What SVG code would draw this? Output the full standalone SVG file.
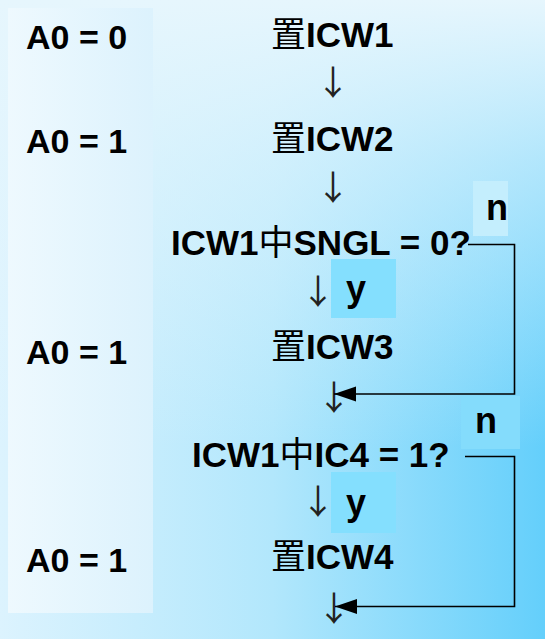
<svg xmlns="http://www.w3.org/2000/svg" width="545" height="639" viewBox="0 0 545 639">
  <defs>
    <linearGradient id="bgH" x1="0" y1="0" x2="1" y2="0">
      <stop offset="0" stop-color="#dcf3fe"/>
      <stop offset="0.5" stop-color="#b2e7fc"/>
      <stop offset="1" stop-color="#64cffb"/>
    </linearGradient>
    <linearGradient id="bgV" gradientUnits="userSpaceOnUse" x1="0" y1="0" x2="0" y2="639">
      <stop offset="0" stop-color="#e6f6fd" stop-opacity="1"/>
      <stop offset="0.25" stop-color="#e6f6fd" stop-opacity="0.6"/>
      <stop offset="0.7" stop-color="#e6f6fd" stop-opacity="0"/>
    </linearGradient>
    <linearGradient id="panel" x1="0" y1="0" x2="1" y2="0">
      <stop offset="0" stop-color="#eef9fe"/>
      <stop offset="1" stop-color="#dcf2fd"/>
    </linearGradient>
    <marker id="ah" markerUnits="userSpaceOnUse" markerWidth="24" markerHeight="18" refX="22" refY="8" orient="auto">
      <path d="M0,0.5 L22,8 L0,15.5 Z" fill="#000"/>
    </marker>
    <style>
      .t { font-family: "Liberation Sans", Arial, sans-serif; font-weight: bold; font-size: 35px; fill: #000; }
      .a0 { font-family: "Liberation Sans", Arial, sans-serif; font-weight: bold; font-size: 34px; fill: #000; }
      .cjk { font-family: "Noto Sans CJK SC", sans-serif; font-weight: normal; }
      .lbl { font-family: "Liberation Sans", Arial, sans-serif; font-weight: bold; font-size: 36px; fill: #000; }
      .dn { font-family: "Noto Sans CJK SC", "DejaVu Sans", sans-serif; font-weight: normal; font-size: 34px; fill: #222; text-anchor: middle; }
      .line { fill: none; stroke: #000; stroke-width: 1.6; }
    </style>
  </defs>

  <rect x="0" y="0" width="545" height="639" fill="url(#bgH)"/>
  <rect x="0" y="0" width="545" height="639" fill="url(#bgV)"/>
  <rect x="8" y="8" width="145" height="605" fill="url(#panel)"/>

  <g id="a0-labels">
    <text class="a0" x="26" y="49">A0 = 0</text>
    <text class="a0" x="26" y="153">A0 = 1</text>
    <text class="a0" x="26" y="364">A0 = 1</text>
    <text class="a0" x="26" y="572">A0 = 1</text>
  </g>

  <g id="node-icw1">
    <text class="t" x="271" y="47"><tspan class="cjk">置</tspan>ICW1</text>
  </g>
  <g id="node-icw2">
    <text class="t" x="271" y="151"><tspan class="cjk">置</tspan>ICW2</text>
  </g>
  <g id="node-sngl">
    <text class="t" x="171" y="255">ICW1<tspan class="cjk">中</tspan>SNGL = 0?</text>
  </g>
  <g id="node-icw3">
    <text class="t" x="271" y="359"><tspan class="cjk">置</tspan>ICW3</text>
  </g>
  <g id="node-ic4">
    <text class="t" x="192" y="467">ICW1<tspan class="cjk">中</tspan>IC4 = 1?</text>
  </g>
  <g id="node-icw4">
    <text class="t" x="271" y="569"><tspan class="cjk">置</tspan>ICW4</text>
  </g>

  <g id="branch-labels">
    <rect x="473" y="181" width="35" height="55" fill="#c4eefd"/>
    <text class="lbl" x="497" y="220" text-anchor="middle">n</text>
    <rect x="331" y="259" width="65" height="59" fill="#84dffe"/>
    <text class="lbl" x="356" y="301" text-anchor="middle">y</text>
    <rect x="461" y="396" width="59" height="53" fill="#84dcfc"/>
    <text class="lbl" x="486" y="433" text-anchor="middle">n</text>
    <rect x="331" y="472" width="65" height="61" fill="#84dffe"/>
    <text class="lbl" x="356" y="515" text-anchor="middle">y</text>
  </g>

  <g id="connectors">
    <text class="dn" x="333" y="95">↓</text>
    <text class="dn" x="333" y="200">↓</text>
    <text class="dn" x="318" y="304">↓</text>
    <text class="dn" x="334" y="410">↓</text>
    <text class="dn" x="318" y="514">↓</text>
    <text class="dn" x="334" y="621">↓</text>
    <polyline class="line" points="468,244.5 514.5,244.5 514.5,394 334,394" marker-end="url(#ah)"/>
    <polyline class="line" points="465,456.5 514.5,456.5 514.5,606.5 335,606.5" marker-end="url(#ah)"/>
  </g>
</svg>
